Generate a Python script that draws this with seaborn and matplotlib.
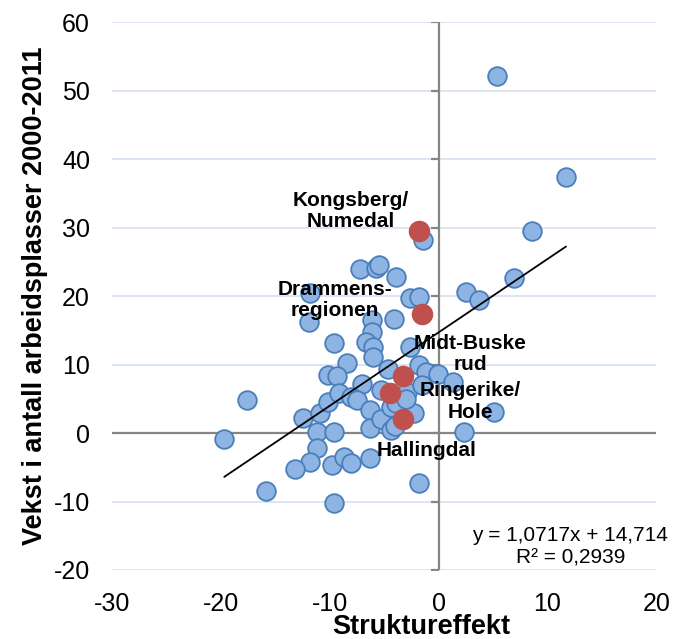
import numpy as np
import matplotlib
matplotlib.use('Agg')
import matplotlib.pyplot as plt
import seaborn as sns

# blue regions (struktureffekt, vekst)
x_blue = [5.4, 11.7, 8.6, 6.9, 2.5, 3.7, -1.4,
          -7.2, -5.8, -5.5, -3.9, -2.6, -1.8, -11.8, -11.9, -6.1, -4.1,
          -6.1, -6.7, -6.0, -9.6, -2.6, -6.0, -8.4, -10.2, -9.3, -7.0,
          -4.7, -1.8, -1.2, -0.1, 1.3, -2.9, -5.3, -17.6, -19.7, -12.5,
          -10.9, -10.2, -9.2, -8.1, -7.5, -11.2, -9.6, -11.2, -11.8, -13.2,
          -9.8, -8.7, -8.1, -6.3, -15.9, -9.6, -1.8, 2.3, -6.3, -6.3,
          -5.3, -4.4, -2.3, -4.4, 5.1, -3.9, -4.0, -1.5, -3.0]
y_blue = [52.1, 37.4, 29.5, 22.6, 20.6, 19.4, 28.2,
          23.9, 24.1, 24.5, 22.8, 19.8, 19.9, 20.4, 16.2, 16.5, 16.7,
          14.7, 13.3, 12.6, 13.2, 12.6, 11.1, 10.3, 8.5, 8.3, 7.2,
          9.4, 9.9, 8.9, 8.7, 7.4, 6.0, 6.3, 4.8, -0.8, 2.2,
          2.9, 4.6, 5.8, 5.2, 4.8, 0.2, 0.2, -2.2, -4.2, -5.3,
          -4.6, -3.5, -4.4, -3.7, -8.4, -10.2, -7.3, 0.2, 3.4, 0.7,
          2.1, 0.5, 2.9, 3.8, 3.1, 4.4, 1.0, 7.0, 5.0]

# highlighted regions
x_red = [-1.8, -1.5, -3.3, -4.5, -3.3]
y_red = [29.5, 17.4, 8.3, 5.9, 2.0]

labels = ['Kongsberg/\nNumedal', 'Drammens-\nregionen', 'Midt-Buske\nrud',
          'Ringerike/\nHole', 'Hallingdal']
label_x = [-8.1, -9.5, 2.9, 2.9, -1.1]
label_y = [32.4, 19.4, 11.6, 4.6, -2.6]

slope, intercept, r2 = 1.0717, 14.714, 0.2939

sns.set_style('white')
plt.rcParams['font.family'] = ['Liberation Sans', 'DejaVu Sans']
plt.rcParams['axes.unicode_minus'] = False
plt.rcParams['text.color'] = 'black'
plt.rcParams['axes.labelcolor'] = 'black'

fig = plt.figure(figsize=(6.88, 6.39), dpi=100)
ax = fig.add_axes([0.163, 0.108, 0.791, 0.857])

ax.set_xlim(-30, 20)
ax.set_ylim(-20, 60)
ax.set_xticks(range(-30, 21, 10))
ax.set_yticks(range(-20, 61, 10))
ax.yaxis.grid(True, color='#D9E4F1', lw=1.3)
ax.xaxis.grid(False)
ax.set_axisbelow(True)
for s in ax.spines.values():
    s.set_visible(False)
ax.tick_params(axis='both', length=0, labelsize=18, colors='black')
ax.tick_params(axis='y', pad=16)
ax.tick_params(axis='x', pad=16)

ax.axhline(0, color='#868686', lw=1.6, zorder=1)
ax.axvline(0, color='#868686', lw=1.6, zorder=1)
ax.plot(np.zeros(len(ax.get_yticks())), ax.get_yticks(), ls='none',
        marker=0, ms=6, mew=1.6, color='#868686', zorder=1)

sns.scatterplot(x=x_blue, y=y_blue, ax=ax, s=180, color='#8EB4E3',
                edgecolor='#4A7EBB', linewidth=1.3, zorder=3)
sns.scatterplot(x=x_red, y=y_red, ax=ax, s=210, color='#C0504D',
                edgecolor='#C0504D', linewidth=1, zorder=4)

xl = np.array([min(x_blue + x_red), max(x_blue + x_red)])
ax.plot(xl, slope * xl + intercept, color='black', lw=1.3, zorder=5)

for t, lx, ly in zip(labels, label_x, label_y):
    ax.text(lx, ly, t, ha='center', va='center', fontsize=15,
            fontweight='bold', linespacing=1.15, zorder=6)

ax.text(12.1, -14.9, 'y = 1,0717x + 14,714', ha='center', va='center', fontsize=15)
ax.text(12.1, -18.3, 'R² = 0,2939', ha='center', va='center', fontsize=15)

ax.set_xlabel('Struktureffekt', fontsize=19.5, fontweight='bold')
ax.xaxis.set_label_coords(0.568, -0.08)
ax.set_ylabel('Vekst i antall arbeidsplasser 2000-2011', fontsize=19.5,
              fontweight='bold', labelpad=4)

fig.savefig('out.png', dpi=100)
